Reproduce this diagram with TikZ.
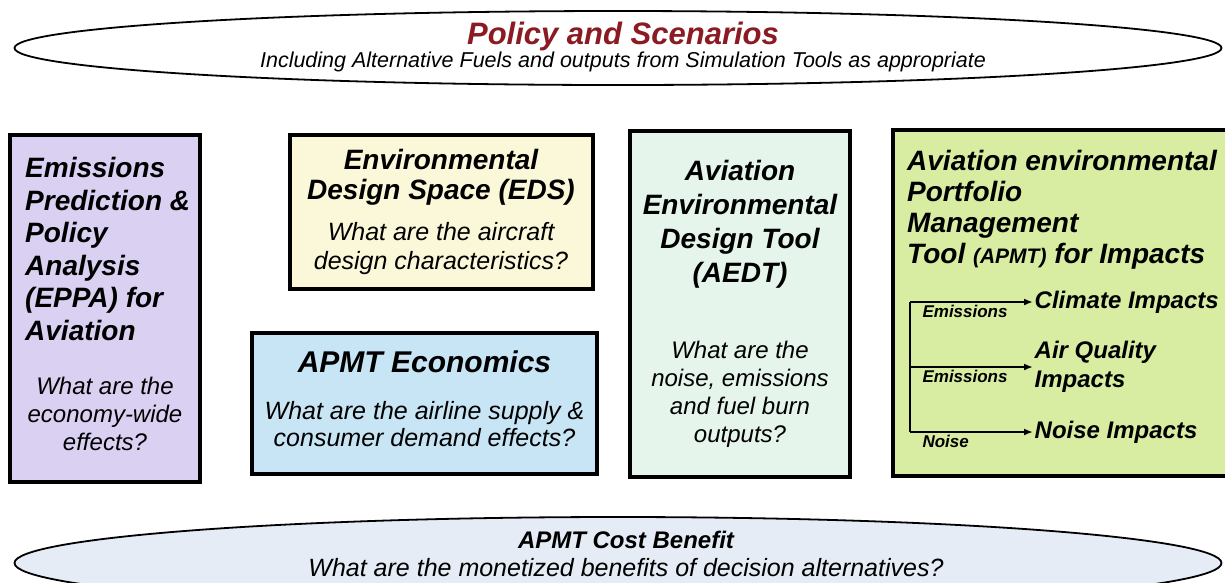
\documentclass[tikz,border=0pt]{standalone}
\usepackage{fontspec}
\setmainfont{Liberation Sans}
\usetikzlibrary{shapes.geometric,arrows.meta}
\definecolor{policyred}{RGB}{139,26,34}
\definecolor{eppafill}{RGB}{218,208,242}
\definecolor{edsfill}{RGB}{251,248,218}
\definecolor{econfill}{RGB}{200,229,245}
\definecolor{aedtfill}{RGB}{229,245,236}
\definecolor{apmtfill}{RGB}{216,237,162}
\definecolor{cbfill}{RGB}{229,236,245}

\begin{document}
\begin{tikzpicture}[x=1pt,y=-1pt,
    box/.style={draw,line width=3.3pt,inner sep=0pt},
    oval/.style={ellipse,draw,line width=1.8pt,inner sep=0pt},
    head/.style={font=\fontsize{28}{32.5}\selectfont\bfseries\itshape,inner sep=0pt},
    ask/.style={font=\fontsize{24}{28}\selectfont\itshape,align=center,inner sep=0pt},
    impact/.style={font=\fontsize{24}{29}\selectfont\bfseries\itshape,align=left,inner sep=1.5pt,anchor=west},
    tag/.style={font=\fontsize{17}{20}\selectfont\bfseries\itshape,inner sep=1.5pt,anchor=north west,pos=0.08},
    wire/.style={line width=2.4pt}]
  \useasboundingbox (0,0) rectangle (1225,582);

  % policy on top, cost benefit at the bottom
  \node[oval,minimum width=1207pt,minimum height=74pt] (policy) at (618,48) {};
  \node[inner sep=0pt,text=policyred,font=\fontsize{31}{34}\selectfont\bfseries\itshape] (policyT) at (623,36) {Policy and Scenarios};
  \node[inner sep=0pt,font=\fontsize{21.5}{24}\selectfont\itshape] (policyS) at (623,62) {Including Alternative Fuels and outputs from Simulation Tools as appropriate};
  \node[oval,fill=cbfill,minimum width=1207pt,minimum height=92pt] (cb) at (618,563) {};
  \node[inner sep=0pt,font=\fontsize{24}{28}\selectfont\bfseries\itshape] (cbT) at (626,540) {APMT Cost Benefit};
  \node[inner sep=0pt,font=\fontsize{25}{28}\selectfont\itshape] (cbS) at (626,568) {What are the monetized benefits of decision alternatives?};

  % EPPA
  \node[box,fill=eppafill,minimum width=190pt,minimum height=347pt] (eppa) at (105,308.5) {};
  \node[head,align=left,anchor=west] (eppaT) at (25,249) {Emissions\\Prediction \&\\Policy\\Analysis\\(EPPA) for\\Aviation};
  \node[ask] (eppaQ) at (105,414) {What are the\\economy-wide\\effects?};

  % EDS
  \node[box,fill=edsfill,minimum width=303pt,minimum height=154pt] (eds) at (441.5,212) {};
  \node[head,align=center,font=\fontsize{28}{30}\selectfont\bfseries\itshape] (edsT) at (441,177) {Environmental\\Design Space (EDS)};
  \node[ask,font=\fontsize{25}{29}\selectfont\itshape] (edsQ) at (441,249) {What are the aircraft\\design characteristics?};

  % APMT economics
  \node[box,fill=econfill,minimum width=345pt,minimum height=141pt] (econ) at (424.5,403.5) {};
  \node[head,font=\fontsize{30}{34}\selectfont\bfseries\itshape] (econT) at (424.5,362) {APMT Economics};
  \node[ask,font=\fontsize{25}{27}\selectfont\itshape] (econQ) at (424.5,424) {What are the airline supply \&\\consumer demand effects?};

  % AEDT
  \node[box,fill=aedtfill,minimum width=220pt,minimum height=346pt] (aedt) at (740,304) {};
  \node[head,align=center,font=\fontsize{28}{34}\selectfont\bfseries\itshape] (aedtT) at (740,224) {Aviation\\Environmental\\Design Tool\\(AEDT)};
  \node[ask] (aedtQ) at (740,394) {What are the\\noise, emissions\\and fuel burn\\outputs?};

  % APMT impacts
  \node[box,fill=apmtfill,minimum width=342pt,minimum height=346pt] (apmt) at (1064,303) {};
  \node[head,align=left,anchor=west,font=\fontsize{28}{31}\selectfont\bfseries\itshape] (apmtT) at (907,210)
    {Aviation environmental\\Portfolio\\Management\\Tool {\fontsize{21}{21}\selectfont(APMT)} for Impacts};
  \node[impact] (clim) at (1033,302) {Climate Impacts};
  \node[impact] (airq) at (1033,367) {Air Quality\\Impacts};
  \node[impact] (noise) at (1033,432) {Noise Impacts};
  \coordinate (trunk) at (910,0);
  \draw[wire] (clim.west -| trunk) -- (noise.west -| trunk);
  \draw[wire,-{Latex[length=9pt,width=7pt]}] (clim.west -| trunk) -- node[tag] {Emissions} (clim.west);
  \draw[wire,-{Latex[length=9pt,width=7pt]}] (airq.west -| trunk) -- node[tag] {Emissions} (airq.west);
  \draw[wire,-{Latex[length=9pt,width=7pt]}] (noise.west -| trunk) -- node[tag] {Noise} (noise.west);
\end{tikzpicture}
\end{document}
